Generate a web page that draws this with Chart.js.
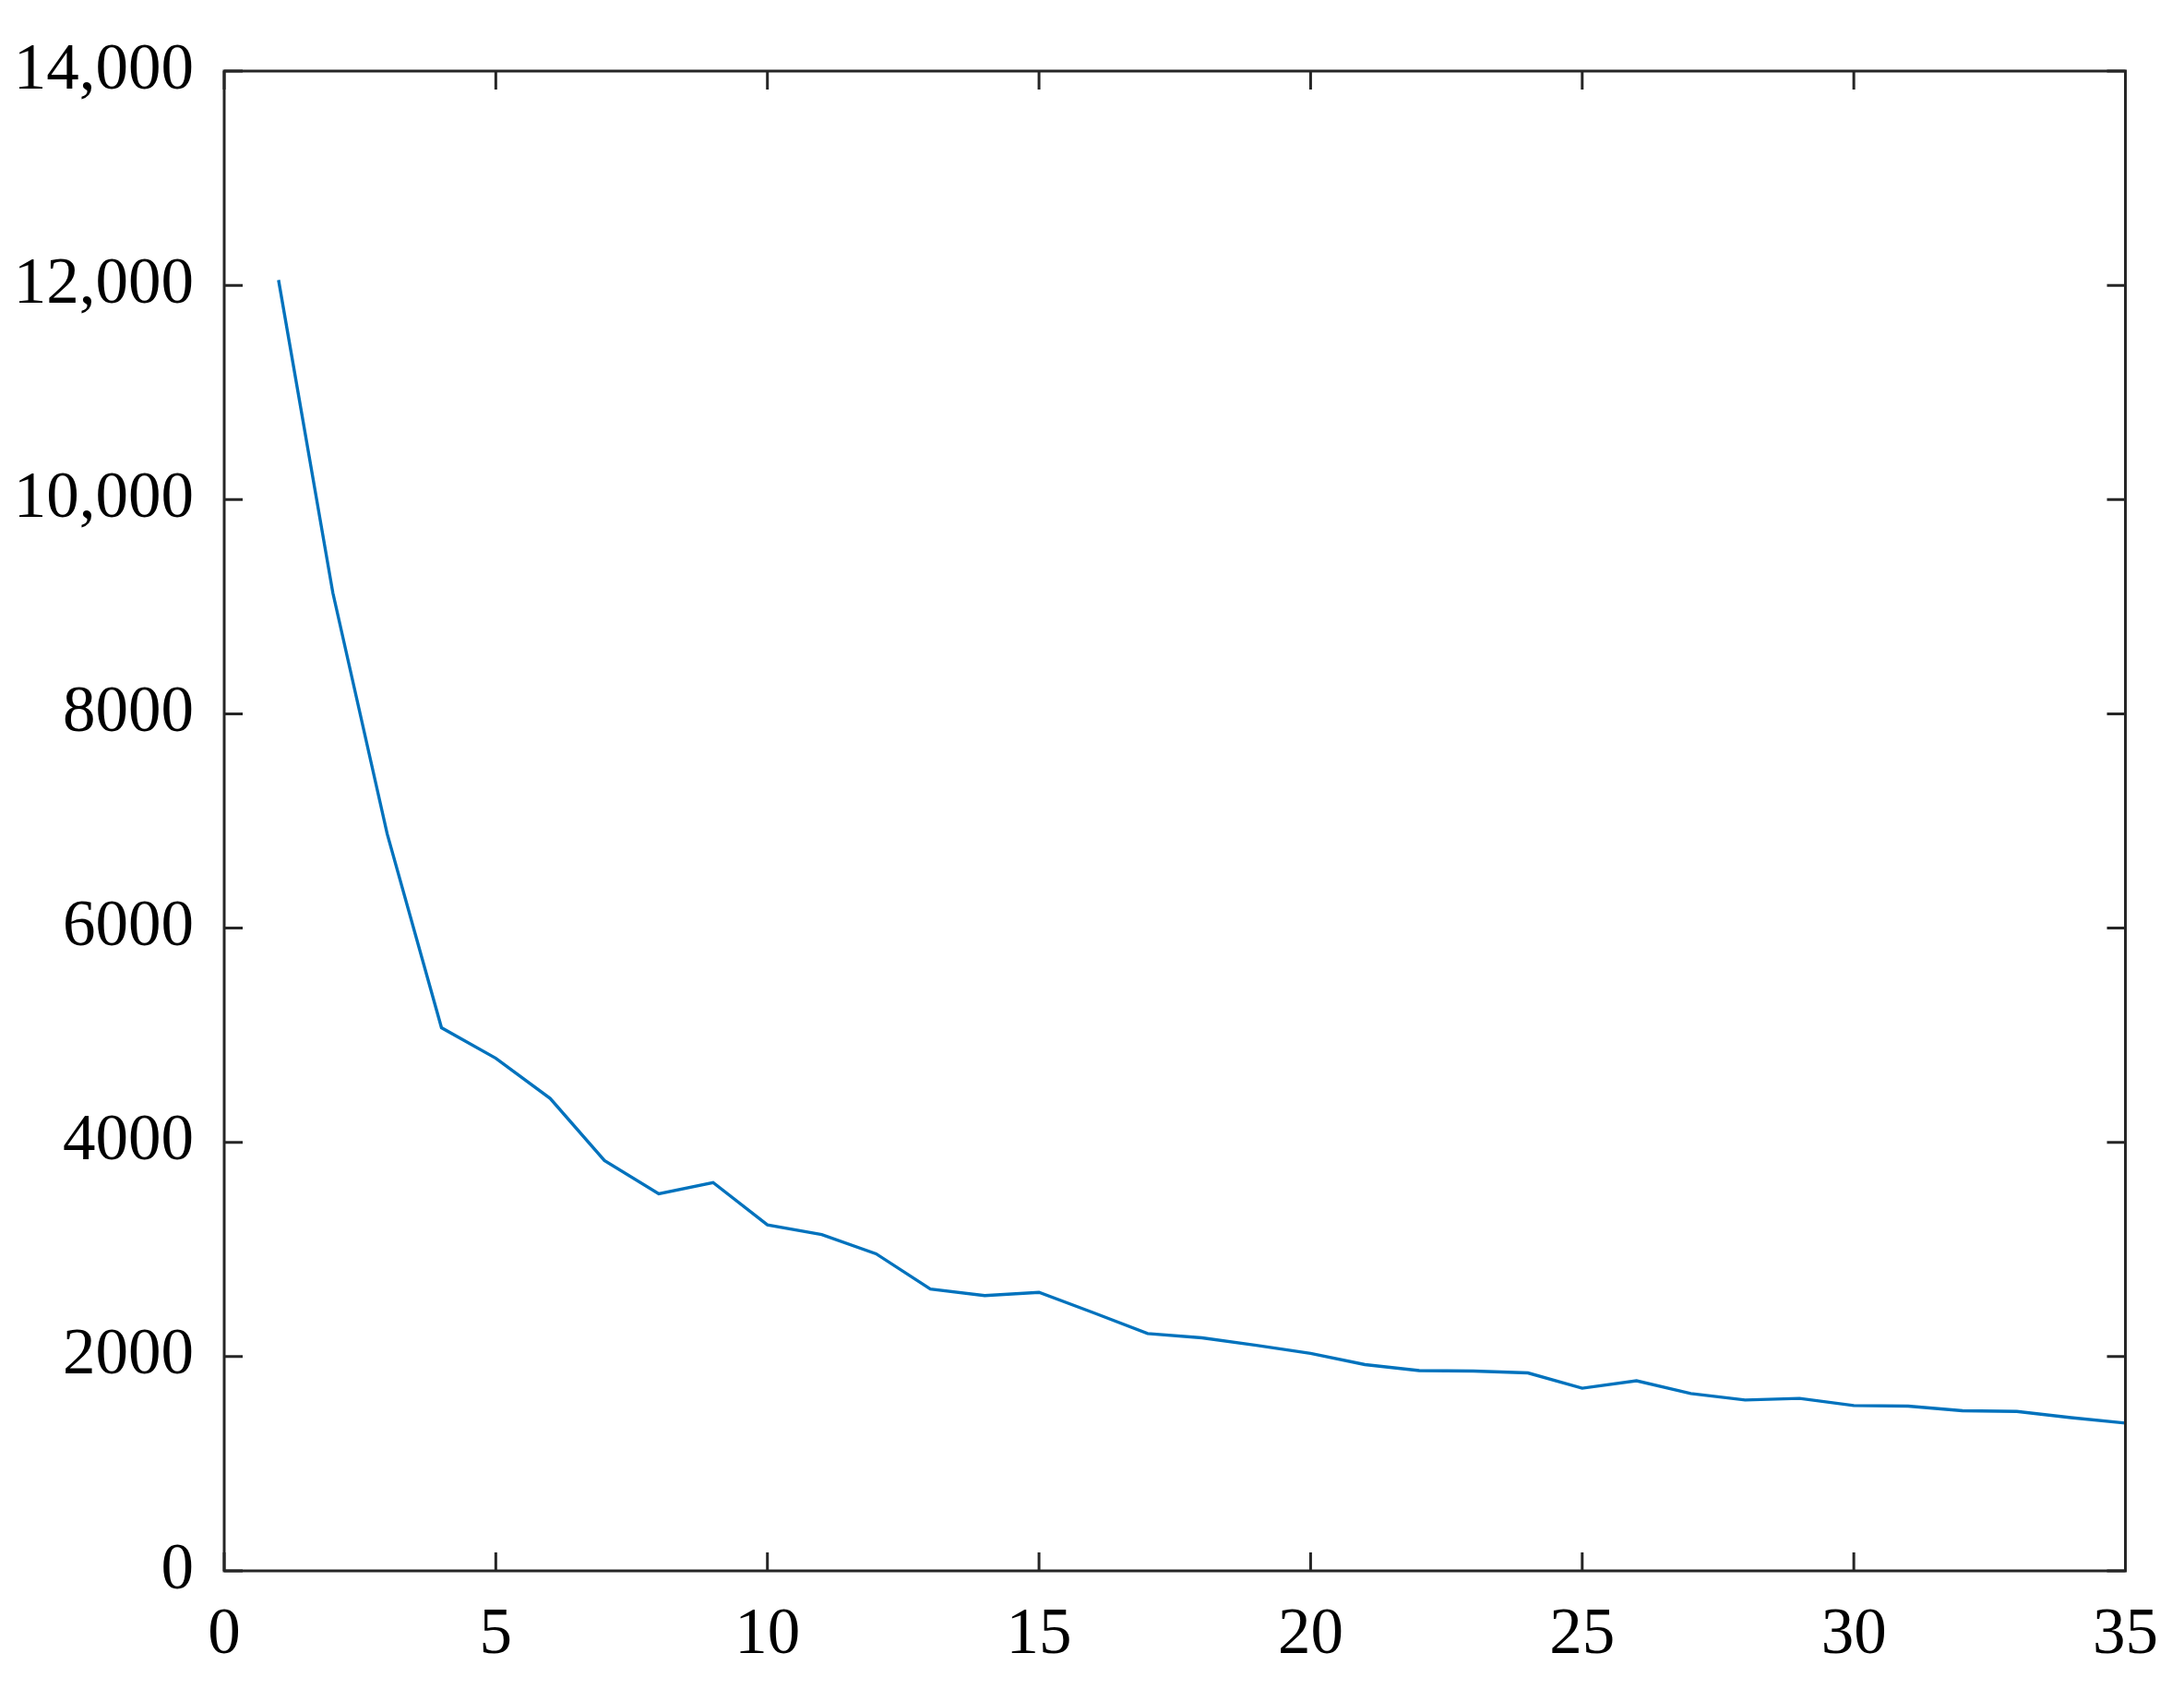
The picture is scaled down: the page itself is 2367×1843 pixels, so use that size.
<!DOCTYPE html>
<html>
<head>
<meta charset="utf-8">
<script src="https://cdn.jsdelivr.net/npm/chart.js@4/dist/chart.umd.min.js"></script>
<style>
  html, body { margin: 0; padding: 0; background: #ffffff; }
  #wrap { width: 2367px; height: 1843px; }
</style>
</head>
<body>
<div id="wrap"><canvas id="c" width="2367" height="1843" style="width:2367px;height:1843px"></canvas></div>
<script>
const xValues = [1,2,3,4,5,6,7,8,9,10,11,12,13,14,15,16,17,18,19,20,21,22,23,24,25,26,27,28,29,30,31,32,33,34,35];
const yValues = [12050,9130,6880,5070,4785,4410,3830,3520,3625,3230,3140,2960,2630,2570,2600,2410,2215,2175,2105,2030,1926,1870,1865,1848,1705,1775,1655,1595,1610,1543,1538,1495,1488,1430,1380];
const xTicks = [0,5,10,15,20,25,30,35];
const yTicks = [0,2000,4000,6000,8000,10000,12000,14000];

const points = xValues.map((x, i) => ({ x: x, y: yValues[i] }));
const fmtY = v => (v >= 10000 ? v.toLocaleString('en-US') : String(v));

const boxPlugin = {
  id: 'boxTicks',
  afterDraw(chart) {
    const { ctx, chartArea: a, scales: { x, y } } = chart;
    ctx.save();
    ctx.strokeStyle = '#262626';
    ctx.lineWidth = 3;
    ctx.lineCap = 'butt';
    const L = 20;
    ctx.beginPath();
    x.ticks.forEach(t => {
      const px = x.getPixelForValue(t.value);
      ctx.moveTo(px, a.bottom); ctx.lineTo(px, a.bottom - L);
      ctx.moveTo(px, a.top); ctx.lineTo(px, a.top + L);
    });
    y.ticks.forEach(t => {
      const py = y.getPixelForValue(t.value);
      ctx.moveTo(a.left, py); ctx.lineTo(a.left + L, py);
      ctx.moveTo(a.right, py); ctx.lineTo(a.right - L, py);
    });
    ctx.stroke();
    ctx.strokeRect(a.left, a.top, a.right - a.left, a.bottom - a.top);
    ctx.restore();
  }
};

const font = { family: '"Liberation Serif", "Times New Roman", serif', size: 71 };

new Chart(document.getElementById('c'), {
  type: 'line',
  data: {
    datasets: [{
      data: points,
      borderColor: '#0072BD',
      borderWidth: 3.4,
      pointRadius: 0,
      tension: 0,
      fill: false
    }]
  },
  options: {
    responsive: false,
    animation: false,
    events: [],
    layout: { padding: { top: 77, right: 62, left: 0, bottom: 0 } },
    plugins: { legend: { display: false }, tooltip: { enabled: false } },
    scales: {
      x: {
        type: 'linear',
        min: 0, max: 35,
        afterBuildTicks: s => { s.ticks = xTicks.map(v => ({ value: v })); },
        afterFit: s => { s.height = 141; },
        grid: { display: false, drawTicks: false },
        border: { display: false },
        ticks: { color: '#000000', font: font, padding: 28, maxRotation: 0, autoSkip: false, callback: v => String(v) }
      },
      y: {
        type: 'linear',
        min: 0, max: 14000,
        afterBuildTicks: s => { s.ticks = yTicks.map(v => ({ value: v })); },
        afterFit: s => { s.width = 243; },
        grid: { display: false, drawTicks: false },
        border: { display: false },
        ticks: { color: '#000000', font: font, padding: 33, autoSkip: false, callback: v => fmtY(v) }
      }
    }
  },
  plugins: [boxPlugin]
});
</script>
</body>
</html>
